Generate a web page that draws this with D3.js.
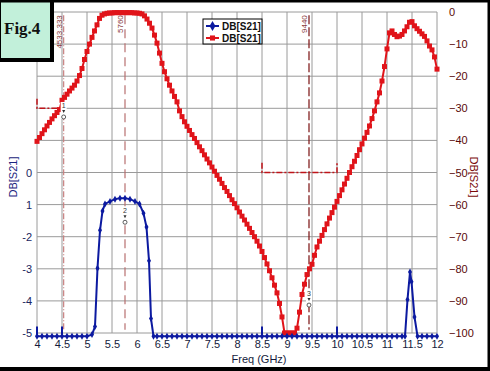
<!DOCTYPE html>
<html>
<head>
<meta charset="utf-8">
<script src="https://cdn.jsdelivr.net/npm/d3@7"></script>
<style>
  body { margin: 0; background: #fff; }
  svg { display: block; font-family: "Liberation Sans", Arial, sans-serif; }
</style>
</head>
<body>
<svg id="chart" width="490" height="371"></svg>
<script>
// red trace (right axis, dB), sampled every 0.05 GHz from 4 to 12
const redStart = 4, redStep = 0.05;
const redDb = [
  -40.3, -39.1, -37.9, -36.7, -35.5, -34.4, -33.3, -32.3, -31.3, -30.4,
  -27.5, -26.6, -25.6, -24.6, -23.7, -22.8, -21.5, -19.8, -17.6, -14.8,
  -12.3, -10.0, -7.9, -5.9, -4.0, -2.0, -1.0, -0.6, -0.4, -0.3,
  -0.3, -0.2, -0.2, -0.2, -0.2, -0.2, -0.2, -0.2, -0.2, -0.3,
  -0.3, -0.4, -0.6, -1.2, -2.2, -3.5, -5.0, -7.2, -9.7, -12.8,
  -16.0, -18.6, -20.8, -22.8, -24.6, -26.3, -28.0, -30.8, -32.6, -34.2,
  -35.6, -36.9, -38.2, -39.4, -40.7, -42.0, -43.2, -44.5, -45.8, -47.0,
  -48.3, -49.6, -50.9, -52.1, -53.4, -54.7, -55.9, -57.2, -58.5, -59.7,
  -61.0, -62.3, -63.6, -64.8, -66.1, -67.4, -68.7, -70.0, -71.4, -72.9,
  -74.6, -76.5, -78.5, -80.6, -82.8, -85.1, -87.5, -90.8, -95.0, -100,
  -100, -100, -100, -100, -98.5, -93.5, -88.0, -84.8, -81.8, -80.0,
  -78.6, -75.8, -73.2, -71.4, -69.6, -67.8, -66.0, -64.2, -62.5, -60.8,
  -59.0, -57.2, -55.4, -53.6, -51.8, -50.0, -48.2, -46.5, -44.7, -42.9,
  -41.1, -39.3, -37.5, -35.5, -33.2, -30.8, -28.0, -25.2, -21.5, -17.0,
  -11.5, -6.5, -5.9, -7.0, -7.7, -7.5, -7.0, -5.9, -4.6, -3.2,
  -3.0, -4.3, -5.2, -6.0, -6.8, -7.6, -9.0, -10.6, -11.8, -14.0,
  -17.8
];

// blue trace (left axis)
const blueFreq = [
  4.0, 4.1, 4.2, 4.3, 4.4, 4.5, 4.6, 4.7, 4.8, 4.9, 5.0, 5.1,
  5.16, 5.21, 5.26, 5.31, 5.36, 5.46, 5.56, 5.66, 5.76, 5.86, 5.96,
  6.05, 6.13, 6.19, 6.24, 6.28, 6.33,
  6.4, 6.5, 6.6, 6.7, 6.8, 6.9, 7.0, 7.1, 7.2, 7.3, 7.4, 7.5, 7.6, 7.7,
  7.8, 7.9, 8.0, 8.1, 8.2, 8.3, 8.4, 8.5, 8.6, 8.7, 8.8, 8.9, 9.0, 9.1,
  9.2, 9.3, 9.4, 9.5, 9.6, 9.7, 9.8, 9.9, 10.0, 10.1, 10.2, 10.3, 10.4,
  10.5, 10.6, 10.7, 10.8, 10.9, 11.0, 11.1, 11.2, 11.3,
  11.36, 11.41, 11.46, 11.49, 11.55, 11.61, 11.7, 11.8, 11.9, 12.0
];
const blueDb = [
  -5.1, -5.1, -5.1, -5.1, -5.1, -5.1, -5.1, -5.1, -5.1, -5.1, -5.1, -5.05,
  -4.8, -2.98, -1.8, -1.2, -0.98, -0.9, -0.83, -0.8, -0.8, -0.83, -0.9,
  -0.98, -1.27, -1.7, -2.75, -4.55, -5.1,
  -5.1, -5.1, -5.1, -5.1, -5.1, -5.1, -5.1, -5.1, -5.1, -5.1, -5.1, -5.1, -5.1, -5.1,
  -5.1, -5.1, -5.1, -5.1, -5.1, -5.1, -5.1, -5.1, -5.1, -5.1, -5.1, -5.1, -5.1, -5.1,
  -5.1, -5.1, -5.1, -5.1, -5.1, -5.1, -5.1, -5.1, -5.1, -5.1, -5.1, -5.1, -5.1,
  -5.1, -5.1, -5.1, -5.1, -5.1, -5.1, -5.1, -5.1, -5.1,
  -5.1, -3.96, -3.1, -3.4, -4.5, -5.1, -5.1, -5.1, -5.1, -5.1
];

// tick labels
const leftTicks = [0, -1, -2, -3, -4, -5];
const leftLabels = ['0', '1', '-2', '-3', '-4', '-5'];
const rightTicks = d3.range(0, -101, -10);
const freqTicks = d3.range(4, 12.01, 0.5);

// markers: frequency, label, trace, symbol level
const markerFreq = [4.5333, 5.76, 9.44];
const markerText = ['4533.333', '5760', '9440'];
const markerNum = ['1', '2', '3'];
const markerAxis = ['right', 'left', 'right'];
const markerLevel = [-32.7, -1.55, -91.3];

// limit lines (red, dB) and their ticks on the blue trace
const limitFrom = [4.0, 8.5];
const limitTo = [4.5, 10.0];
const limitDb = [-30, -50];

const svg = d3.select('#chart');
const x = d3.scaleLinear([4, 12], [37, 437]);
const yR = d3.scaleLinear([-100, 0], [333, 12]);
const yL = d3.scaleLinear([-5, 5], [333, 12]);

const red = '#e0141a', blue = '#0c1aa0';

// grid
svg.append('g').selectAll('line').data(freqTicks).join('line')
  .attr('x1', d => x(d)).attr('x2', d => x(d))
  .attr('y1', yR(0)).attr('y2', yR(-100))
  .attr('stroke', '#9a9a9a').attr('stroke-width', 1);
svg.append('g').selectAll('line').data(rightTicks).join('line')
  .attr('x1', x(4)).attr('x2', x(12))
  .attr('y1', d => yR(d)).attr('y2', d => yR(d))
  .attr('stroke', '#9a9a9a').attr('stroke-width', 1);

// axes (labels only)
const bottom = svg.append('g').attr('transform', `translate(0,${yR(-100) + 4})`)
  .call(d3.axisBottom(x).tickValues(freqTicks).tickSize(0).tickFormat(d3.format('~g')));
bottom.selectAll('text').attr('fill', '#141a3c').style('font-size', '11px');

const left = svg.append('g').attr('transform', `translate(${x(4) - 2},0)`)
  .call(d3.axisLeft(yL).tickValues(leftTicks).tickSize(0)
    .tickFormat((d, i) => leftLabels[i]));
left.selectAll('text').attr('fill', '#1a2560').style('font-size', '11px');

const right = svg.append('g').attr('transform', `translate(${x(12) + 9},0)`)
  .call(d3.axisRight(yR).tickValues(rightTicks).tickSize(0));
right.selectAll('text').attr('fill', '#5a0a0a').style('font-size', '11px');

svg.selectAll('.domain').remove();

// axis titles
svg.append('text').attr('x', 259).attr('y', 363).attr('text-anchor', 'middle')
  .attr('fill', '#141a3c').style('font-size', '11px').text('Freq (GHz)');
svg.append('text').attr('transform', 'translate(17,177) rotate(-90)')
  .attr('text-anchor', 'middle').attr('fill', '#1a2580').style('font-size', '11px')
  .text('DB[S21]');
svg.append('text').attr('transform', 'translate(470,177) rotate(90)')
  .attr('text-anchor', 'middle').attr('fill', '#7a0a0a').style('font-size', '11px')
  .text('DB[S21]');

// marker lines
const markerStroke = ['#c88080', '#b87070', '#7a1010'];
const markerDash = ['6,2,1,2', '9,5', '9,3'];
markerFreq.forEach((f, i) => {
  svg.append('line')
    .attr('x1', x(f)).attr('x2', x(f)).attr('y1', yR(-1)).attr('y2', yR(-99))
    .attr('stroke', markerStroke[i]).attr('stroke-width', 1.2)
    .attr('stroke-dasharray', markerDash[i]);
  svg.append('text')
    .attr('transform', `translate(${x(f) - 2},${yR(-1)}) rotate(-90)`)
    .attr('text-anchor', 'end').attr('fill', '#8a3a3a').style('font-size', '8px')
    .text(markerText[i]);
});

// limit lines
limitFrom.forEach((f, i) => {
  const yy = yR(limitDb[i]);
  svg.append('path')
    .attr('d', `M${x(f)},${yR(limitDb[i] + 3)}V${yy}H${x(limitTo[i])}V${yR(limitDb[i] + 3)}`)
    .attr('fill', 'none').attr('stroke', '#c0141a').attr('stroke-width', 1.5)
    .attr('stroke-dasharray', '6,2,2,2');
  [f, limitTo[i]].forEach(v => {
    svg.append('line')
      .attr('x1', x(v)).attr('x2', x(v)).attr('y1', yL(-5.1)).attr('y2', yL(-4.8))
      .attr('stroke', blue).attr('stroke-width', 2);
  });
});

// red trace
const redPts = redDb.map((v, i) => [redStart + i * redStep, v]);
svg.append('path').datum(redPts)
  .attr('d', d3.line().x(d => x(d[0])).y(d => yR(d[1])))
  .attr('fill', 'none').attr('stroke', red).attr('stroke-width', 2);
svg.append('g').selectAll('rect').data(redPts).join('rect')
  .attr('x', d => x(d[0]) - 2.5).attr('y', d => yR(d[1]) - 2.5)
  .attr('width', 5).attr('height', 5).attr('fill', red);

// blue trace
const bluePts = blueFreq.map((f, i) => [f, blueDb[i]]);
svg.append('path').datum(bluePts)
  .attr('d', d3.line().x(d => x(d[0])).y(d => yL(d[1])))
  .attr('fill', 'none').attr('stroke', blue).attr('stroke-width', 2);
svg.append('g').selectAll('path').data(bluePts).join('path')
  .attr('d', d3.symbol(d3.symbolDiamond, 14))
  .attr('transform', d => `translate(${x(d[0])},${yL(d[1])})`)
  .attr('fill', blue);

// marker symbols
markerFreq.forEach((f, i) => {
  const yy = (markerAxis[i] === 'left' ? yL : yR)(markerLevel[i]);
  const g = svg.append('g').attr('transform', `translate(${x(f)},${yy})`);
  g.append('rect').attr('x', -3).attr('y', -15).attr('width', 6).attr('height', 17).attr('fill', '#fff');
  g.append('text').attr('y', -9).attr('text-anchor', 'middle').attr('fill', '#333')
    .style('font-size', '7px').text(markerNum[i]);
  g.append('path').attr('d', 'M-1.5,-7L1.5,-7L0,-4Z').attr('fill', '#333');
  g.append('circle').attr('r', 2).attr('fill', 'none').attr('stroke', '#333').attr('stroke-width', 0.8);
});

// legend
const lg = svg.append('g').attr('transform', 'translate(203,19)');
lg.append('rect').attr('width', 59).attr('height', 25).attr('fill', '#fff')
  .attr('stroke', '#000').attr('stroke-width', 1);
[[blue, 'diamond'], [red, 'square']].forEach(([c, s], i) => {
  const yy = 7 + i * 12;
  lg.append('line').attr('x1', 3).attr('x2', 16).attr('y1', yy).attr('y2', yy)
    .attr('stroke', c).attr('stroke-width', 2);
  lg.append('path')
    .attr('d', d3.symbol(s === 'diamond' ? d3.symbolDiamond : d3.symbolSquare, s === 'diamond' ? 30 : 26))
    .attr('transform', `translate(9.5,${yy})`).attr('fill', c);
  lg.append('text').attr('x', 19).attr('y', yy + 3.5).attr('fill', '#111')
    .style('font-size', '10px').style('font-weight', 'bold').text('DB[S21]');
});

// figure tag
svg.append('rect').attr('x', 0).attr('y', 0).attr('width', 54).attr('height', 62).attr('fill', '#000');
svg.append('rect').attr('x', 1).attr('y', 2).attr('width', 49).attr('height', 56).attr('fill', '#c2f0da');
svg.append('text').attr('x', 4).attr('y', 34)
  .style('font-family', '"Liberation Serif", "Times New Roman", serif')
  .style('font-size', '17px').style('font-weight', 'bold').attr('fill', '#111')
  .text('Fig.4');

// frame
svg.append('rect').attr('x', 0).attr('y', 0).attr('width', 490).attr('height', 2.5).attr('fill', '#000');
svg.append('rect').attr('x', 0).attr('y', 367).attr('width', 490).attr('height', 4).attr('fill', '#000');
svg.append('rect').attr('x', 487.5).attr('y', 0).attr('width', 2.5).attr('height', 371).attr('fill', '#000');
</script>
</body>
</html>
